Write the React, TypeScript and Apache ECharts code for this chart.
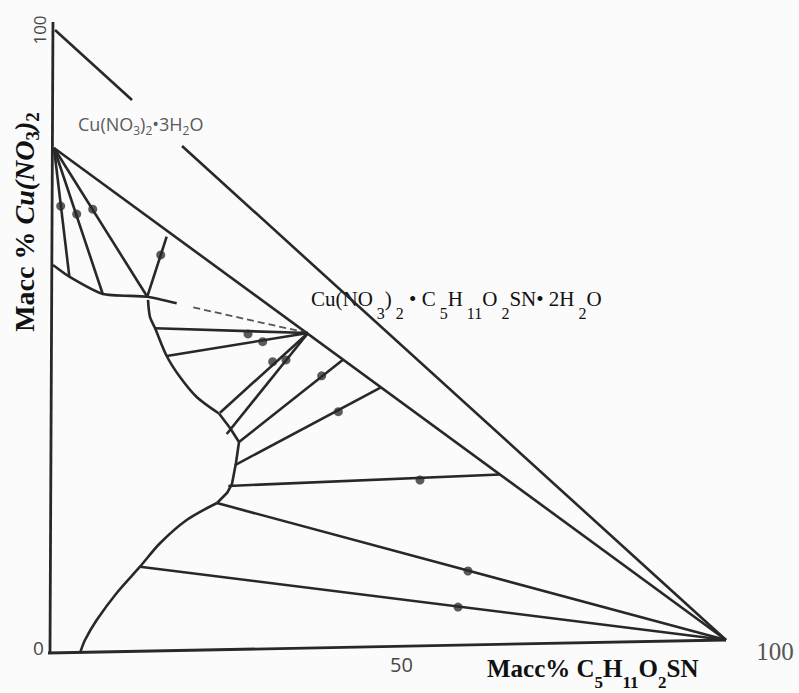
import { useEffect, useRef } from "react";
import * as echarts from "echarts";

// ---- diagram data (mass %, x = C5H11O2SN, y = Cu(NO3)2) ----
const axisLeft = [[0.44, 101.3], [0, 0]];
const axisBottom = [[-0.44, -0.16], [100, 1.93]];
const hypotenuseUpper = [[0.74, 100], [12.13, 88.75]];
const hypotenuseLower = [[19.53, 81.35], [100, 1.93]];
const trihydrateRay = [[0.59, 81.03], [100, 1.93]];
const fanRay1 = [[0.59, 81.03], [2.86, 60.34]];
const fanRay2 = [[0.59, 81.03], [7.8, 57.56]];
const fanRay3 = [[0.59, 81.03], [14.39, 57.12]];
const upperCurve = [[0.44, 62.22], [2.86, 60.34], [7.8, 57.56], [14.39, 57.12], [18.74, 56.06]];
const dashedBranch = [[21.2, 55.4], [38.17, 51.29]];
const shortTie = [[14.39, 57.12], [17.26, 66.77]];
const middleArc = [[14.5, 56.6], [14.79, 53.86], [15.53, 52.09], [17.26, 47.59], [19.23, 44.21], [21.7, 41.0], [25.0, 38.34]];
const middleKink = [[25.0, 38.34], [26.63, 36.01], [27.96, 33.76], [27.51, 30.39], [26.92, 27.01], [26.18, 25.56], [24.7, 23.95]];
const lowerCurve = [[24.7, 23.95], [20.22, 21.22], [16.27, 17.48], [13.31, 13.71], [9.87, 9.49], [6.91, 5.14], [5.18, 1.93], [4.44, -0.16]];
const tiesFromCompound = [
  [[38.17, 51.29], [15.53, 52.04]],
  [[38.17, 51.29], [17.26, 47.59]],
  [[38.17, 51.29], [25.15, 38.47]],
  [[38.17, 51.29], [26.14, 35.05]],
];
const tiesFromRay = [
  [[43.34, 47.0], [27.96, 33.76]],
  [[48.96, 42.54], [27.37, 30.06]],
  [[66.57, 28.53], [26.38, 26.69]],
];
const tiesToApex = [
  [[24.7, 23.95], [100, 1.93]],
  [[13.31, 13.71], [100, 1.93]],
];
const experimentalPoints = [
  [1.58, 71.7], [3.95, 70.4], [6.32, 71.2], [16.38, 63.83],
  [29.29, 51.13], [31.46, 49.89], [32.94, 46.67], [34.91, 46.95],
  [40.19, 44.4], [42.65, 38.63], [54.73, 27.65], [61.83, 13.02], [60.36, 7.23],
];
const yTickLabels = [0, 100];
const xTickLabels = [50, 100];

const INK = "#282828";

export default function App() {
  const ref = useRef<HTMLDivElement>(null);
  useEffect(() => {
    if (!ref.current) return;
    const chart = echarts.init(ref.current, undefined, { renderer: "svg" });
    const solid = (data: number[][], smooth: number | boolean = false, width = 2.6) => ({
      type: "line",
      data,
      smooth,
      symbol: "none",
      clip: false,
      silent: true,
      lineStyle: { color: INK, width },
    });
    const series: any[] = [
      solid(axisLeft, false, 2.8),
      solid(axisBottom, false, 2.8),
      solid(hypotenuseUpper),
      solid(hypotenuseLower),
      solid(trihydrateRay),
      solid(fanRay1),
      solid(fanRay2),
      solid(fanRay3),
      solid(upperCurve, 0.2),
      {
        ...solid(dashedBranch, false, 1.8),
        lineStyle: { color: "#555", width: 1.8, type: [7, 4] },
      },
      solid(shortTie),
      solid(middleArc, 0.3),
      solid(middleKink, false),
      solid(lowerCurve, 0.3),
      ...tiesFromCompound.map((d) => solid(d)),
      ...tiesFromRay.map((d) => solid(d)),
      ...tiesToApex.map((d) => solid(d)),
      {
        type: "scatter",
        data: experimentalPoints,
        symbol: "circle",
        symbolSize: 9,
        clip: false,
        silent: true,
        itemStyle: { color: "#333" },
      },
    ];
    chart.setOption({
      animation: false,
      backgroundColor: "#fbfbfb",
      grid: { left: 50, right: 73, top: 30, bottom: 41 },
      xAxis: { type: "value", min: 0, max: 100, show: false },
      yAxis: { type: "value", min: 0, max: 100, show: false },
      series,
    });

    const px = (p: number[]) => chart.convertToPixel({ gridIndex: 0 }, p) as number[];
    const tickFill = "#474747";
    const [yt0, yt100] = yTickLabels.map((v) => px([0, v]));
    const [xt50, xt100] = xTickLabels.map((v) => px([v, 0]));

    const graphic: any[] = [
      {
        type: "text",
        x: yt0[0] - 11.5,
        y: yt0[1] - 4,
        style: { text: String(yTickLabels[0]), font: '19px "Open Sans"', fill: tickFill, align: "center", verticalAlign: "middle" },
      },
      {
        type: "text",
        x: yt100[0] - 11,
        y: yt100[1],
        rotation: Math.PI / 2,
        style: { text: String(yTickLabels[1]), font: '17px "Open Sans"', fill: tickFill, align: "center", verticalAlign: "middle" },
      },
      {
        type: "text",
        x: xt50[0] + 13.5,
        y: xt50[1] + 12.5,
        style: { text: String(xTickLabels[0]), font: '20px "Open Sans"', fill: tickFill, align: "center", verticalAlign: "middle" },
      },
      {
        type: "text",
        x: xt100[0] + 49,
        y: xt100[1] - 0.5,
        style: { text: String(xTickLabels[1]), font: '25px "Liberation Serif"', fill: "#555", align: "center", verticalAlign: "middle" },
      },
      // trihydrate label
      {
        type: "text",
        x: 78,
        y: 114.5,
        style: {
          text: "{m|Cu(NO}{s|3}{m|)}{s|2}{m|•3H}{s|2}{m|O}",
          align: "left",
          verticalAlign: "top",
          rich: {
            m: { fontSize: 18, fontFamily: "Open Sans", fill: "#5a5a5a", lineHeight: 21.5, verticalAlign: "top" },
            s: { fontSize: 12, fontFamily: "Open Sans", fill: "#5a5a5a", lineHeight: 12, verticalAlign: "bottom" },
          },
        },
      },
      // compound label
      {
        type: "text",
        x: 311,
        y: 288,
        style: {
          text: "{m|Cu(NO}{s| 3}{m|)}{s| 2}{m| • C}{s| 5}{m|H}{s| 11}{m|O}{s| 2}{m|SN• 2H}{s| 2}{m|O}",
          align: "left",
          verticalAlign: "top",
          rich: {
            m: { fontSize: 21, fontFamily: "Liberation Serif", fill: "#111", lineHeight: 33, verticalAlign: "top" },
            s: { fontSize: 16, fontFamily: "Liberation Serif", fill: "#111", lineHeight: 16, verticalAlign: "bottom" },
          },
        },
      },
      // x axis title
      {
        type: "text",
        x: 487,
        y: 656,
        style: {
          text: "{m|Macc% C}{s|5}{m|H}{s|11}{m|O}{s|2}{m|SN}",
          align: "left",
          verticalAlign: "top",
          rich: {
            m: { fontSize: 25, fontWeight: "bold", fontFamily: "Liberation Serif", fill: "#111", lineHeight: 35, verticalAlign: "top" },
            s: { fontSize: 17, fontWeight: "bold", fontFamily: "Liberation Serif", fill: "#111", lineHeight: 17, verticalAlign: "bottom" },
          },
        },
      },
      // y axis title
      {
        type: "text",
        x: 26,
        y: 222,
        rotation: Math.PI / 2,
        style: {
          text: "{m|Macc % }{i|Cu(NO}{s|3}{i|)}{s|2}",
          align: "center",
          verticalAlign: "middle",
          rich: {
            m: { fontSize: 28, fontWeight: "bold", fontFamily: "Liberation Serif", fill: "#111", lineHeight: 31.5, verticalAlign: "top" },
            i: { fontSize: 28, fontWeight: "bold", fontStyle: "italic", fontFamily: "Liberation Serif", fill: "#111", lineHeight: 31.5, verticalAlign: "top" },
            s: { fontSize: 19, fontWeight: "bold", fontFamily: "Liberation Serif", fill: "#111", lineHeight: 19, verticalAlign: "bottom" },
          },
        },
      },
    ];
    chart.setOption({ graphic });
    return () => chart.dispose();
  }, []);
  return <div ref={ref} style={{ position: "absolute", left: 0, top: 0, width: 799, height: 693 }} />;
}
